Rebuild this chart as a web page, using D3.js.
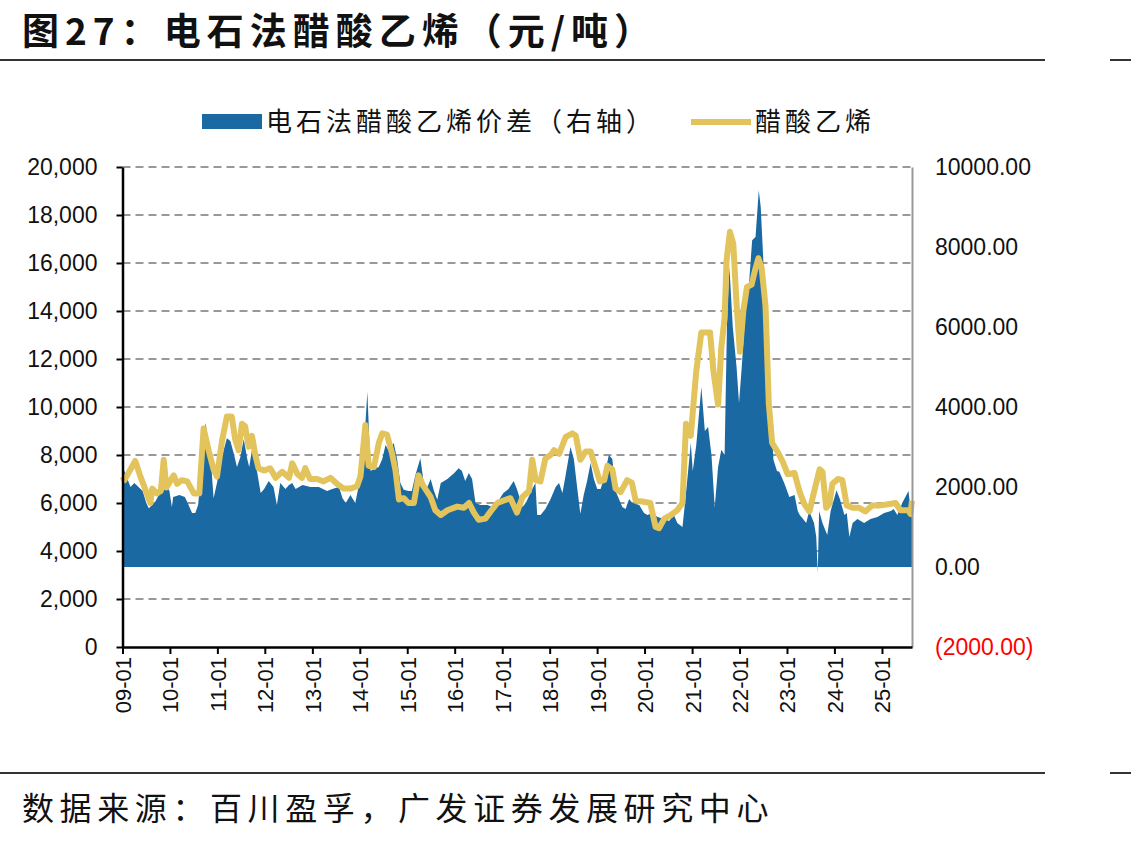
<!doctype html>
<html lang="zh">
    <head>
        <meta charset="utf-8">
        <title>电石法醋酸乙烯</title>
        <script src="https://cdn.jsdelivr.net/npm/d3@7"></script>
        <style>
            body { margin: 0; background: #fff; }
            text { font-family: "Liberation Sans", Arial, sans-serif; }
            .cjk { font-family: "Noto Sans CJK SC", sans-serif; }
        </style>
    </head>
    <body>
        <script type="text/javascript">

            // 醋酸乙烯 price (left axis, 元/吨)
            var priceDates = ["2009-01-01","2009-01-15","2009-04-09","2009-05-19","2009-06-27","2009-08-03","2009-08-18","2009-09-23","2009-10-23","2009-11-14",
                "2009-12-05","2010-01-30","2010-02-25","2010-04-02","2010-05-14","2010-07-04","2010-08-15","2010-09-17","2010-10-28","2010-12-03",
                "2010-12-29","2011-02-06","2011-03-15","2011-04-22","2011-05-18","2011-06-13","2011-07-09","2011-08-02","2011-08-30","2011-09-24",
                "2011-10-20","2011-11-14","2011-12-25","2012-02-12","2012-03-24","2012-05-14","2012-07-05","2012-07-30","2012-09-09","2012-10-13",
                "2012-11-07","2012-12-14","2013-02-06","2013-03-28","2013-05-20","2013-07-09","2013-08-30","2013-10-21","2013-12-11","2014-01-06",
                "2014-02-13","2014-03-10","2014-04-20","2014-05-27","2014-06-23","2014-07-29","2014-09-07","2014-10-03","2014-10-29","2014-12-05",
                "2015-01-10","2015-02-21","2015-03-29","2015-05-06","2015-06-30","2015-08-05","2015-09-16","2015-11-06","2016-01-20","2016-03-12",
                "2016-04-21","2016-05-28","2016-07-04","2016-08-24","2016-10-04","2016-11-24","2017-01-10","2017-03-05","2017-04-24","2017-06-06",
                "2017-07-26","2017-08-20","2017-09-15","2017-10-22","2017-11-29","2018-01-08","2018-02-04","2018-03-15","2018-05-04","2018-06-25",
                "2018-07-21","2018-08-25","2018-10-06","2018-11-12","2018-12-07","2019-01-22","2019-02-25","2019-03-21","2019-04-28","2019-05-23",
                "2019-06-30","2019-08-20","2019-09-25","2019-10-25","2019-12-24","2020-02-14","2020-03-26","2020-04-21","2020-06-01","2020-07-23",
                "2020-09-09","2020-10-19","2020-11-15","2020-12-22","2021-02-02","2021-03-13","2021-05-19","2021-06-14","2021-07-20","2021-08-14",
                "2021-09-08","2021-09-23","2021-10-19","2021-11-14","2021-12-09","2022-01-04","2022-01-30","2022-02-27","2022-04-04","2022-04-30",
                "2022-05-26","2022-06-20","2022-07-20","2022-08-14","2022-09-09","2022-10-19","2022-12-01","2023-01-06","2023-02-28","2023-04-09",
                "2023-05-15","2023-06-23","2023-07-30","2023-09-09","2023-10-01","2023-10-30","2023-11-22","2023-12-17","2024-01-28","2024-03-02",
                "2024-04-05","2024-05-20","2024-07-10","2024-08-26","2024-10-17","2024-12-19","2025-02-17","2025-04-16","2025-05-22","2025-07-24",
                "2025-08-08","2025-08-20"];
            var priceValues = [7100,6950,7750,7100,6550,6000,6600,6400,6500,7800,
                6650,7150,6800,6950,6900,6400,6400,9100,8150,7400,
                7100,8600,9600,9600,8650,8200,9300,9200,8350,8800,
                8000,7450,7350,7450,7050,7300,7050,7650,7200,7050,
                7450,7000,7000,6900,7050,6800,6600,6600,6700,7100,
                9250,7550,7500,8500,8900,8850,8050,7350,6150,6200,
                6000,6000,7150,6700,6250,5700,5500,5700,5850,5800,
                6000,5600,5300,5350,5650,6000,6100,6200,5600,6250,
                6500,7800,6950,6900,7850,8000,8200,8050,8750,8900,
                8800,7800,8150,8150,7700,6900,6950,7550,7400,6600,
                6450,6950,6850,6100,6050,6000,5000,4950,5350,5500,
                5700,6000,9300,8800,11500,13100,13100,11500,10100,12500,
                13700,16100,17300,16800,14300,12300,14000,15000,15100,15700,
                16200,15800,14200,10150,8500,8150,7700,7200,7250,6450,
                5950,5650,6500,7400,7300,5800,5950,6800,7000,6950,
                5900,5800,5800,5650,5900,5900,5950,6000,5700,5700,
                5550,6100];

            // 电石法醋酸乙烯价差 (right axis)
            var spreadDates = ["2009-01-01","2009-01-15","2009-03-04","2009-04-02","2009-06-05","2009-07-03","2009-07-22","2009-09-04","2009-10-08","2009-12-09",
                "2009-12-28","2010-01-16","2010-01-26","2010-03-15","2010-04-26","2010-05-18","2010-06-20","2010-07-15","2010-08-06","2010-10-01",
                "2010-11-07","2010-12-03","2010-12-29","2011-02-06","2011-03-15","2011-04-11","2011-05-06","2011-06-01","2011-06-27","2011-07-23",
                "2011-08-19","2011-09-03","2011-09-28","2011-11-05","2011-11-30","2011-12-27","2012-01-31","2012-03-08","2012-04-03","2012-04-29",
                "2012-06-08","2012-07-05","2012-07-30","2012-08-25","2012-10-17","2012-12-17","2013-02-20","2013-04-24","2013-06-03","2013-07-25",
                "2013-08-21","2013-09-15","2013-10-21","2013-11-27","2013-12-22","2014-01-18","2014-02-28","2014-03-25","2014-04-20","2014-05-27",
                "2014-06-23","2014-07-18","2014-08-13","2014-09-19","2014-10-15","2014-11-09","2014-12-05","2015-01-10","2015-02-05","2015-03-05",
                "2015-04-12","2015-05-08","2015-06-05","2015-06-30","2015-07-26","2015-08-20","2015-09-16","2015-11-06","2015-12-25","2016-02-01",
                "2016-02-26","2016-03-22","2016-04-19","2016-05-14","2016-06-09","2016-07-18","2016-09-10","2016-10-15","2016-11-20","2017-01-10",
                "2017-02-18","2017-03-30","2017-04-24","2017-06-06","2017-07-01","2017-08-20","2017-09-13","2017-09-27","2017-10-23","2017-11-29",
                "2018-01-08","2018-02-16","2018-03-14","2018-04-09","2018-05-04","2018-06-10","2018-07-06","2018-07-31","2018-08-25","2018-09-20",
                "2018-10-16","2018-11-12","2018-12-07","2019-01-02","2019-01-28","2019-02-25","2019-04-01","2019-04-28","2019-05-23","2019-06-18",
                "2019-07-14","2019-08-08","2019-09-04","2019-09-29","2019-11-21","2019-12-28","2020-01-23","2020-03-01","2020-04-10","2020-06-01",
                "2020-07-08","2020-08-14","2020-09-09","2020-10-19","2020-11-15","2020-12-22","2021-01-06","2021-02-02","2021-03-13","2021-04-09",
                "2021-05-04","2021-05-30","2021-06-24","2021-07-20","2021-08-14","2021-09-08","2021-09-27","2021-10-15","2021-11-10","2021-12-09",
                "2021-12-28","2022-01-18","2022-02-13","2022-03-13","2022-04-08","2022-05-04","2022-05-29","2022-06-13","2022-07-01","2022-07-28",
                "2022-08-22","2022-09-19","2022-10-16","2022-11-03","2022-12-11","2023-01-19","2023-02-28","2023-03-25","2023-04-09","2023-05-05",
                "2023-05-29","2023-06-21","2023-07-28","2023-08-14","2023-08-26","2023-09-05","2023-10-01","2023-11-07","2023-12-03","2024-01-17",
                "2024-02-12","2024-03-18","2024-04-05","2024-04-25","2024-05-20","2024-06-26","2024-08-16","2024-10-05","2024-11-27","2025-01-18",
                "2025-03-11","2025-04-01","2025-04-29","2025-06-06","2025-07-24","2025-08-10","2025-08-20"];
            var spreadValues = [2550,2400,2000,2100,1900,1600,1470,1600,1800,2000,
                1900,1500,1750,1800,1750,1600,1350,1350,1550,3600,
                2900,1720,2100,2760,3220,3150,2850,2500,2750,3200,
                2700,2500,3000,2340,1850,1950,2150,2000,1550,2100,
                1950,2050,2100,1950,2050,2000,2000,1900,1950,2000,
                1720,1600,1800,1600,2000,2200,4380,2400,2450,2500,
                2700,3050,2900,3100,2700,2100,1930,1900,1900,2300,
                2720,2100,2000,2200,1900,1680,2100,2200,2340,2470,
                2400,2150,2350,2200,1600,1550,1550,1500,1600,1850,
                1950,2150,1950,1500,1600,1950,2100,1300,1300,1450,
                1700,2000,2100,1850,2300,3000,2700,2000,1330,1800,
                2150,2600,2200,1950,1950,2250,2800,2700,1900,1700,
                1500,1450,1700,1600,1550,1350,1300,1350,1250,1200,
                1150,1300,1100,1000,1850,3100,2400,3050,4500,3400,
                3500,2800,1500,2500,2930,2800,6170,7500,6000,5000,
                4100,5000,6300,7000,8170,8250,9420,9000,7800,6000,
                4350,2680,2400,2380,2100,1750,1800,1400,1300,1200,
                1100,1400,1100,760,-150,1400,1100,800,1400,1920,
                1700,1300,1350,750,1100,1200,1100,1200,1250,1350,
                1400,1450,1300,1600,1900,1400,1200];

            var xTickLabels = ["09-01","10-01","11-01","12-01","13-01","14-01","15-01","16-01","17-01",
                               "18-01","19-01","20-01","21-01","22-01","23-01","24-01","25-01"];
            var leftTicks = [0, 2000, 4000, 6000, 8000, 10000, 12000, 14000, 16000, 18000, 20000];
            var rightTicks = [-2000, 0, 2000, 4000, 6000, 8000, 10000];

            var W = 1131, H = 844;
            var plot = {left: 122.5, right: 912, top: 167, bottom: 647};
            var blue = "#1b69a2", gold = "#e2c35c";

            var parse = d3.timeParse("%Y-%m-%d");
            var price = priceDates.map((d, i) => ({date: parse(d), value: priceValues[i]}));
            var spread = spreadDates.map((d, i) => ({date: parse(d), value: spreadValues[i]}));

            var x = d3.scaleTime()
                      .domain([parse("2009-01-01"), parse("2025-08-20")])
                      .range([plot.left, plot.right]);
            var yL = d3.scaleLinear().domain([0, 20000]).range([plot.bottom, plot.top]);
            var yR = d3.scaleLinear().domain([-2000, 10000]).range([plot.bottom, plot.top]);

            var svg = d3.select("body")
                        .append("svg")
                        .attr("width", W)
                        .attr("height", H);
            svg.append("rect").attr("width", W).attr("height", H).attr("fill", "#fff");

            // title + rules
            svg.append("text")
               .attr("class", "cjk")
               .attr("x", 22)
               .attr("y", 45)
               .attr("font-size", 37)
               .attr("font-weight", "bold")
               .attr("letter-spacing", 6)
               .attr("fill", "#111")
               .text("图27：电石法醋酸乙烯（元/吨）");

            [60, 773].forEach(y => {
                svg.append("line").attr("x1", 0).attr("x2", 1045).attr("y1", y).attr("y2", y)
                   .attr("stroke", "#333").attr("stroke-width", 2);
                svg.append("line").attr("x1", 1110).attr("x2", W).attr("y1", y).attr("y2", y)
                   .attr("stroke", "#333").attr("stroke-width", 2);
            });

            svg.append("text")
               .attr("class", "cjk")
               .attr("x", 22)
               .attr("y", 820)
               .attr("font-size", 32)
               .attr("letter-spacing", 5.6)
               .attr("fill", "#111")
               .text("数据来源：百川盈孚，广发证券发展研究中心");

            // gridlines
            svg.append("g")
               .selectAll("line")
               .data(leftTicks.filter(d => d > 0))
               .enter()
               .append("line")
               .attr("x1", plot.left)
               .attr("x2", plot.right)
               .attr("y1", d => yL(d))
               .attr("y2", d => yL(d))
               .attr("stroke", "#999")
               .attr("stroke-width", 2)
               .attr("stroke-dasharray", "8,5");

            // spread area (right axis)
            var area = d3.area()
                         .x(d => x(d.date))
                         .y0(yR(0))
                         .y1(d => yR(d.value));
            svg.append("path")
               .datum(spread)
               .attr("d", area)
               .attr("fill", blue);

            // price line (left axis)
            var line = d3.line()
                         .x(d => x(d.date))
                         .y(d => yL(d.value));
            svg.append("path")
               .datum(price)
               .attr("d", line)
               .attr("fill", "none")
               .attr("stroke", gold)
               .attr("stroke-width", 6)
               .attr("stroke-linejoin", "round");

            // right axis
            var rightAxis = svg.append("g")
               .attr("transform", "translate(" + plot.right + ",0)")
               .call(d3.axisRight(yR).tickValues(rightTicks).tickSize(0).tickPadding(23)
                       .tickFormat(d => d < 0 ? "(" + d3.format(".2f")(-d) + ")" : d3.format(".2f")(d)));
            rightAxis.select(".domain").attr("stroke", "#999").attr("stroke-width", 2);
            rightAxis.selectAll("text")
                     .attr("font-size", 23)
                     .attr("font-family", "Liberation Sans, Arial, sans-serif")
                     .attr("fill", d => d < 0 ? "#ff0000" : "#111");

            // left axis
            var leftAxis = svg.append("g")
               .attr("transform", "translate(" + plot.left + ",0)")
               .call(d3.axisLeft(yL).tickValues(leftTicks).tickSize(6).tickPadding(19).tickSizeOuter(0)
                       .tickFormat(d3.format(",")));
            leftAxis.select(".domain").attr("stroke", "#000").attr("stroke-width", 2.5);
            leftAxis.selectAll(".tick line").attr("stroke", "#000").attr("stroke-width", 2);
            leftAxis.selectAll("text")
                    .attr("font-size", 23)
                    .attr("font-family", "Liberation Sans, Arial, sans-serif")
                    .attr("fill", "#111");

            // bottom axis
            var yearTicks = xTickLabels.map((d, i) => parse((2009 + i) + "-01-01"));
            var bottomAxis = svg.append("g")
               .attr("transform", "translate(0," + plot.bottom + ")")
               .call(d3.axisBottom(x).tickValues(yearTicks).tickSize(7).tickSizeOuter(0)
                       .tickFormat((d, i) => xTickLabels[i]));
            bottomAxis.select(".domain").attr("stroke", "#000").attr("stroke-width", 2.5);
            bottomAxis.selectAll(".tick line").attr("stroke", "#000").attr("stroke-width", 2);
            bottomAxis.selectAll("text")
                      .attr("font-size", 22)
                      .attr("font-family", "Liberation Sans, Arial, sans-serif")
                      .attr("fill", "#111")
                      .attr("text-anchor", "end")
                      .attr("transform", "rotate(-90)")
                      .attr("x", -10)
                      .attr("y", 0)
                      .attr("dy", "0.36em");

            // legend
            var legend = svg.append("g");
            legend.append("rect")
                  .attr("x", 202).attr("y", 114).attr("width", 60).attr("height", 15)
                  .attr("fill", blue);
            legend.append("text")
                  .attr("class", "cjk")
                  .attr("x", 266).attr("y", 131)
                  .attr("font-size", 26)
                  .attr("letter-spacing", 4)
                  .attr("fill", "#111")
                  .text("电石法醋酸乙烯价差（右轴）");
            legend.append("line")
                  .attr("x1", 691).attr("x2", 751).attr("y1", 122).attr("y2", 122)
                  .attr("stroke", gold).attr("stroke-width", 6);
            legend.append("text")
                  .attr("class", "cjk")
                  .attr("x", 755).attr("y", 131)
                  .attr("font-size", 26)
                  .attr("letter-spacing", 4)
                  .attr("fill", "#111")
                  .text("醋酸乙烯");
        </script>
    </body>
</html>
